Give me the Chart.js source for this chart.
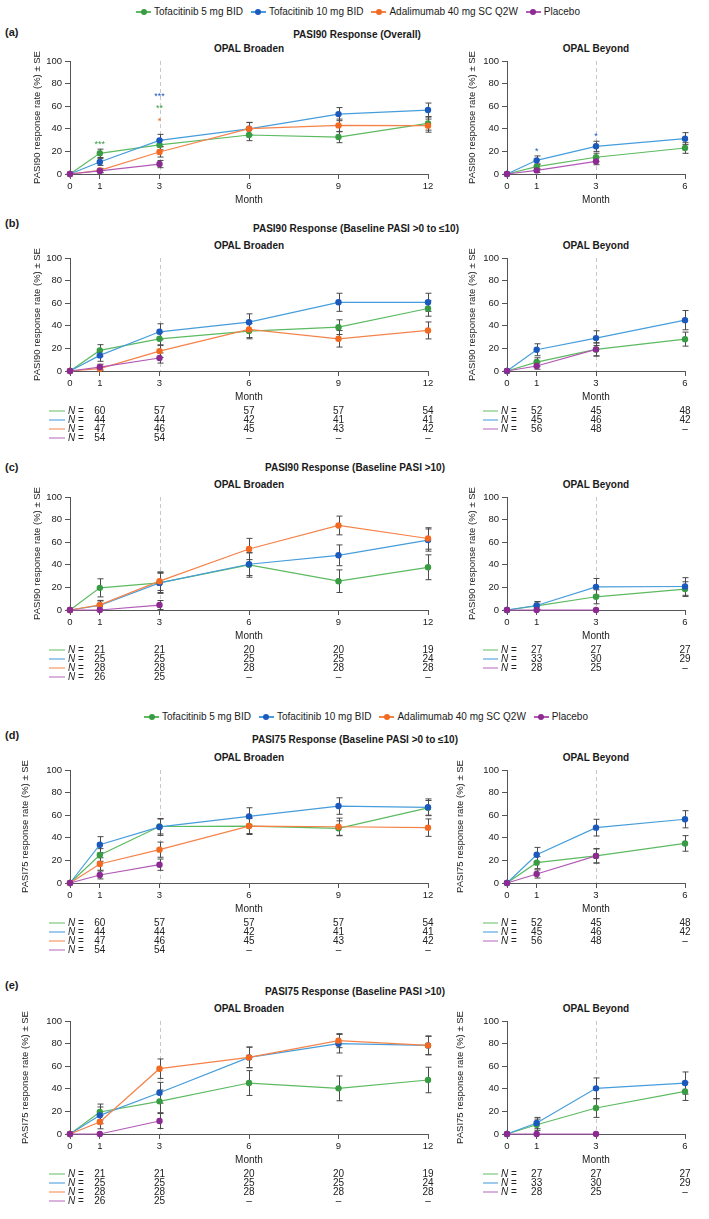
<!DOCTYPE html>
<html>
<head>
<meta charset="utf-8">
<script src="https://cdn.jsdelivr.net/npm/chart.js@4.4.1/dist/chart.umd.min.js"></script>
<style>
body { margin: 0; background: #fff; }
#fig { position: relative; width: 709px; height: 1219px; overflow: hidden;
       font-family: 'Liberation Sans', Arial, Helvetica, sans-serif; color: #1a1a1a; }
.txt { position: absolute; white-space: nowrap; line-height: 1; transform: translate(-50%, -50%); font-size: 10px; font-weight: bold; }
.lbl { position: absolute; white-space: nowrap; line-height: 1; transform: translateY(-50%); font-weight: bold; font-size: 11px; }
.box { position: absolute; }
.legend { position: absolute; display: flex; align-items: center; font-size: 10px; line-height: 1; transform: translateY(-50%); white-space: nowrap; }
.item { display: flex; align-items: center; margin-right: 8px; }
.key { display: inline-block; position: relative; width: 15px; height: 8px; margin-right: 3px; }
.key .ln { position: absolute; left: 0; right: 0; top: 3.3px; height: 1.4px; }
.key .dt { position: absolute; left: 4.5px; top: 1px; width: 6px; height: 6px; border-radius: 50%; }
</style>
</head>
<body>
<div id="fig">
  <div class="legend" id="legend1" style="left:136px; top:12px;"></div>
  <div class="legend" id="legend2" style="left:144px; top:717px;"></div>

  <div class="lbl" style="left:5px; top:32px;">(a)</div>
  <div class="txt" style="left:357px; top:35px;">PASI90 Response (Overall)</div>
  <div class="txt" style="left:249px; top:48.5px;">OPAL Broaden</div>
  <div class="txt" style="left:596px; top:48.5px;">OPAL Beyond</div>

  <div class="lbl" style="left:5px; top:223px;">(b)</div>
  <div class="txt" style="left:356px; top:229px;">PASI90 Response (Baseline PASI &gt;0 to ≤10)</div>
  <div class="txt" style="left:249px; top:246px;">OPAL Broaden</div>
  <div class="txt" style="left:596px; top:246px;">OPAL Beyond</div>

  <div class="lbl" style="left:5px; top:467px;">(c)</div>
  <div class="txt" style="left:355px; top:468px;">PASI90 Response (Baseline PASI &gt;10)</div>
  <div class="txt" style="left:249px; top:485px;">OPAL Broaden</div>
  <div class="txt" style="left:596px; top:485px;">OPAL Beyond</div>

  <div class="lbl" style="left:5px; top:735px;">(d)</div>
  <div class="txt" style="left:355px; top:740px;">PASI75 Response (Baseline PASI &gt;0 to ≤10)</div>
  <div class="txt" style="left:249px; top:758px;">OPAL Broaden</div>
  <div class="txt" style="left:596px; top:758px;">OPAL Beyond</div>

  <div class="lbl" style="left:5px; top:985px;">(e)</div>
  <div class="txt" style="left:355px; top:991.5px;">PASI75 Response (Baseline PASI &gt;10)</div>
  <div class="txt" style="left:249px; top:1009px;">OPAL Broaden</div>
  <div class="txt" style="left:596px; top:1009px;">OPAL Beyond</div>
</div>

<script>
// Treatment arms
const seriesNames = ['Tofacitinib 5 mg BID', 'Tofacitinib 10 mg BID', 'Adalimumab 40 mg SC Q2W', 'Placebo'];
const lineColors = ['#5cba60', '#469ddb', '#f4834a', '#b259b7'];
const markerColors = ['#399c44', '#1c59bd', '#f26a22', '#8c2a91'];
const tableColors = ['#8fd08f', '#72b5e6', '#f7aa7c', '#cc90ce'];

// Visit months
const monthsBroaden = [0, 1, 3, 6, 9, 12];
const monthsBeyond = [0, 1, 3, 6];
const monthsPlacebo = [0, 1, 3];
const nMonthsBroaden = [1, 3, 6, 9, 12];
const nMonthsBeyond = [1, 3, 6];

// (a) PASI90 overall - OPAL Broaden
const aBroTofa5 = [0, 18.3, 25.7, 34.5, 32.7, 44.8];
const aBroTofa5SE = [0, 3.7, 4.3, 5.0, 5.0, 6.0];
const aBroTofa10 = [0, 10.6, 29.8, 40.0, 53.0, 56.6];
const aBroTofa10SE = [0, 3.0, 5.3, 5.5, 5.8, 6.2];
const aBroAda = [0, 3.2, 19.5, 40.1, 43.0, 42.8];
const aBroAdaSE = [0, 1.8, 4.5, 5.6, 5.6, 5.8];
const aBroPbo = [0, 2.7, 8.8];
const aBroPboSE = [0, 1.6, 3.2];
const aBroStarMonths = [1, 3, 3, 3];
const aBroStarLevels = [28, 70, 59.5, 48.5];
const aBroStarText = ['***', '***', '**', '*'];
const aBroStarSeries = [0, 1, 0, 2];

// (a) PASI90 overall - OPAL Beyond
const aBeyTofa5 = [0, 6.5, 14.8, 23.0];
const aBeyTofa5SE = [0, 2.5, 3.6, 4.7];
const aBeyTofa10 = [0, 12.1, 24.5, 31.3];
const aBeyTofa10SE = [0, 3.9, 4.5, 5.3];
const aBeyPbo = [0, 3.2, 11.2];
const aBeyPboSE = [0, 1.8, 3.0];
const aBeyStarMonths = [1, 3];
const aBeyStarLevels = [22, 34.5];
const aBeyStarText = ['*', '*'];
const aBeyStarSeries = [1, 1];

// (b) PASI90, baseline PASI >0 to <=10 - OPAL Broaden
const bBroTofa5 = [0, 18.2, 28.5, 35.3, 38.8, 55.3];
const bBroTofa5SE = [0, 5.1, 6.0, 6.8, 6.5, 6.8];
const bBroTofa10 = [0, 13.8, 34.7, 43.2, 60.8, 60.8];
const bBroTofa10SE = [0, 5.2, 7.1, 7.4, 8.0, 8.0];
const bBroAda = [0, 2.1, 17.6, 36.8, 28.5, 35.9];
const bBroAdaSE = [0, 2.1, 5.6, 7.2, 7.3, 7.5];
const bBroPbo = [0, 3.5, 11.5];
const bBroPboSE = [0, 2.5, 4.5];
const bBroN5 = [60, 57, 57, 57, 54];
const bBroN10 = [44, 44, 42, 41, 41];
const bBroNAda = [47, 46, 45, 43, 42];
const bBroNPbo = [54, 54, null, null, null];

// (b) OPAL Beyond
const bBeyTofa5 = [0, 7.9, 19.1, 28.2];
const bBeyTofa5SE = [0, 3.8, 5.9, 6.2];
const bBeyTofa10 = [0, 18.8, 29.1, 45.0];
const bBeyTofa10SE = [0, 5.3, 6.5, 8.5];
const bBeyPbo = [0, 4.4, 19.1];
const bBeyPboSE = [0, 2.8, 5.7];
const bBeyN5 = [52, 45, 48];
const bBeyN10 = [45, 46, 42];
const bBeyNPbo = [56, 48, null];

// (c) PASI90, baseline PASI >10 - OPAL Broaden
const cBroTofa5 = [0, 19.6, 24.0, 40.0, 25.5, 37.8];
const cBroTofa5SE = [0, 8.0, 9.3, 11.0, 10.0, 11.0];
const cBroTofa10 = [0, 4.0, 24.0, 40.5, 48.4, 61.9];
const cBroTofa10SE = [0, 4.0, 8.5, 10.0, 9.2, 9.8];
const cBroAda = [0, 4.5, 25.5, 54.0, 74.8, 63.3];
const cBroAdaSE = [0, 4.0, 8.2, 9.4, 8.3, 9.5];
const cBroPbo = [0, 0, 4.4];
const cBroPboSE = [0, 0, 4.0];
const cBroN5 = [21, 21, 20, 20, 19];
const cBroN10 = [25, 25, 25, 25, 24];
const cBroNAda = [28, 28, 28, 28, 28];
const cBroNPbo = [26, 25, null, null, null];

// (c) OPAL Beyond
const cBeyTofa5 = [0, 3.7, 11.7, 18.5];
const cBeyTofa5SE = [0, 3.6, 6.2, 6.5];
const cBeyTofa10 = [0, 4.0, 20.5, 20.8];
const cBeyTofa10SE = [0, 3.4, 7.4, 7.8];
const cBeyPbo = [0, 0, 0];
const cBeyPboSE = [0, 0, 0];
const cBeyN5 = [27, 27, 27];
const cBeyN10 = [33, 30, 29];
const cBeyNPbo = [28, 25, null];

// (d) PASI75, baseline PASI >0 to <=10 - OPAL Broaden
const dBroTofa5 = [0, 24.8, 50.0, 50.4, 48.4, 66.5];
const dBroTofa5SE = [0, 5.6, 6.6, 6.6, 6.6, 6.5];
const dBroTofa10 = [0, 33.9, 49.6, 59.0, 68.1, 67.0];
const dBroTofa10SE = [0, 7.1, 7.5, 7.6, 7.3, 7.4];
const dBroAda = [0, 16.8, 29.5, 50.4, 49.8, 49.0];
const dBroAdaSE = [0, 5.5, 6.7, 7.5, 7.6, 7.7];
const dBroPbo = [0, 7.1, 16.2];
const dBroPboSE = [0, 3.5, 5.0];

// (d) OPAL Beyond
const dBeyTofa5 = [0, 18.0, 24.0, 35.0];
const dBeyTofa5SE = [0, 5.3, 6.4, 6.9];
const dBeyTofa10 = [0, 25.0, 49.0, 56.4];
const dBeyTofa10SE = [0, 6.5, 7.4, 7.6];
const dBeyPbo = [0, 8.0, 24.0];
const dBeyPboSE = [0, 3.6, 6.2];

// (e) PASI75, baseline PASI >10 - OPAL Broaden
const eBroTofa5 = [0, 19.5, 28.9, 45.1, 40.4, 47.8];
const eBroTofa5SE = [0, 7.0, 10.0, 11.0, 11.0, 11.3];
const eBroTofa10 = [0, 16.5, 36.5, 67.8, 79.9, 78.4];
const eBroTofa10SE = [0, 7.4, 9.2, 9.2, 8.2, 8.0];
const eBroAda = [0, 10.6, 57.8, 67.8, 82.6, 78.4];
const eBroAdaSE = [0, 6.0, 8.6, 9.0, 6.2, 8.4];
const eBroPbo = [0, 0, 11.5];
const eBroPboSE = [0, 0, 6.6];

// (e) OPAL Beyond
const eBeyTofa5 = [0, 8.2, 23.0, 37.7];
const eBeyTofa5SE = [0, 5.0, 8.3, 8.0];
const eBeyTofa10 = [0, 9.7, 40.4, 45.1];
const eBeyTofa10SE = [0, 5.0, 9.2, 9.8];
const eBeyPbo = [0, 0, 0];
const eBeyPboSE = [0, 0, 0];

// (d) and (e) use the same patient numbers as (b) and (c)

const FONT = "'Liberation Sans', Arial, Helvetica, sans-serif";
const PLOT_H = 113;
const PAD_TOP = 22;
const Y90 = 'PASI90 response rate (%) ± SE';
const Y75 = 'PASI75 response rate (%) ± SE';

Chart.defaults.font.family = FONT;
Chart.defaults.color = '#222';

// Build the figure-level legends
function buildLegend(el) {
    seriesNames.forEach((name, k) => {
        const item = document.createElement('span');
        item.className = 'item';
        item.innerHTML = `<span class="key"><span class="ln" style="background:${lineColors[k]}"></span>` +
            `<span class="dt" style="background:${markerColors[k]}"></span></span>${name}`;
        el.appendChild(item);
    });
}
buildLegend(document.getElementById('legend1'));
buildLegend(document.getElementById('legend2'));

// Error bars, month-3 reference line, significance stars and N table
const extrasPlugin = {
    id: 'extras',
    beforeDatasetsDraw(chart, args, opts) {
        const { ctx, chartArea } = chart;
        const x = chart.scales.x, y = chart.scales.y;
        ctx.save();
        const xr = Math.round(x.getPixelForValue(3)) + 0.5;
        ctx.strokeStyle = '#c8c8c8';
        ctx.lineWidth = 1;
        ctx.setLineDash([4, 3]);
        ctx.beginPath();
        ctx.moveTo(xr, chartArea.top);
        ctx.lineTo(xr, chartArea.bottom);
        ctx.stroke();
        ctx.setLineDash([]);

        ctx.strokeStyle = '#4a4a4a';
        chart.data.datasets.forEach(ds => {
            ds.data.forEach((p, i) => {
                const se = ds.se[i];
                if (!se) return;
                const px = Math.round(x.getPixelForValue(p.x)) + 0.5;
                const yTop = y.getPixelForValue(p.y + se);
                const yBot = y.getPixelForValue(Math.max(0, p.y - se));
                ctx.beginPath();
                ctx.moveTo(px, yTop); ctx.lineTo(px, yBot);
                ctx.moveTo(px - 3, yTop); ctx.lineTo(px + 3, yTop);
                ctx.moveTo(px - 3, yBot); ctx.lineTo(px + 3, yBot);
                ctx.stroke();
            });
        });
        ctx.restore();
    },
    afterDatasetsDraw(chart, args, opts) {
        if (!opts.starMonths) return;
        const { ctx } = chart;
        const x = chart.scales.x, y = chart.scales.y;
        ctx.save();
        ctx.font = `9px ${FONT}`;
        ctx.textAlign = 'center';
        ctx.textBaseline = 'middle';
        opts.starMonths.forEach((m, i) => {
            ctx.fillStyle = markerColors[opts.starSeries[i]];
            ctx.fillText(opts.starText[i], x.getPixelForValue(m), y.getPixelForValue(opts.starLevels[i]) + 2);
        });
        ctx.restore();
    },
    afterDraw(chart, args, opts) {
        if (!opts.nRows) return;
        const { ctx, chartArea } = chart;
        const x = chart.scales.x;
        ctx.save();
        ctx.textBaseline = 'middle';
        opts.nRows.forEach((row, r) => {
            const yy = chartArea.bottom + 40 + 9 * r;
            ctx.strokeStyle = tableColors[row.k];
            ctx.lineWidth = 1.4;
            ctx.beginPath();
            ctx.moveTo(chartArea.left + opts.keyFrom, yy);
            ctx.lineTo(chartArea.left + opts.keyTo, yy);
            ctx.stroke();
            ctx.fillStyle = '#222';
            ctx.textAlign = 'left';
            ctx.font = `italic 10px ${FONT}`;
            const nx = chartArea.left + opts.keyTo + 3;
            ctx.fillText('N', nx, yy);
            const w = ctx.measureText('N').width;
            ctx.font = `10px ${FONT}`;
            ctx.fillText(' =', nx + w, yy);
            ctx.textAlign = 'center';
            row.vals.forEach((v, i) => {
                ctx.fillText(v === null ? '–' : String(v), x.getPixelForValue(opts.nMonths[i]), yy);
            });
        });
        ctx.restore();
    }
};

function buildSeries(vals, se, k, months) {
    return {
        label: seriesNames[k],
        data: vals.map((v, i) => ({ x: months[i], y: v })),
        se: se,
        borderColor: lineColors[k],
        backgroundColor: markerColors[k],
        pointBackgroundColor: markerColors[k],
        pointBorderWidth: 0,
        pointRadius: 3.2,
        borderWidth: 1.2,
        tension: 0,
        clip: false,
        order: [3, 2, 1, 0][k]
    };
}

// Draw one panel; study 'bro' = OPAL Broaden (left), 'bey' = OPAL Beyond (right)
function drawPanel(p) {
    const bro = p.study === 'bro';
    const canvasLeft = bro ? 0 : 445;
    const width = bro ? 440 : 252;
    const areaLeft = bro ? 70 : 62;
    const padL = p.titleX - canvasLeft - 6;
    const padB = p.nRows ? 42 : 4;
    const height = PAD_TOP + PLOT_H + 33 + padB;
    const months = bro ? monthsBroaden : monthsBeyond;

    const box = document.createElement('div');
    box.className = 'box';
    box.style.left = canvasLeft + 'px';
    box.style.top = (p.top - PAD_TOP) + 'px';
    const canvas = document.createElement('canvas');
    canvas.width = width;
    canvas.height = height;
    canvas.style.width = width + 'px';
    canvas.style.height = height + 'px';
    box.appendChild(canvas);
    document.getElementById('fig').appendChild(box);

    const datasets = p.series.map(s => buildSeries(s[0], s[1], s[2], s[2] === 3 ? monthsPlacebo : months));

    const axisGrid = { drawOnChartArea: false, drawTicks: true, tickLength: 5, color: '#555', lineWidth: 1 };
    const axisBorder = { display: true, color: '#555', width: 1 };

    new Chart(canvas, {
        type: 'line',
        data: { datasets },
        plugins: [extrasPlugin],
        options: {
            responsive: false,
            animation: false,
            events: [],
            layout: { autoPadding: false, padding: { left: padL, right: 12, top: PAD_TOP, bottom: padB } },
            plugins: {
                legend: { display: false },
                tooltip: { enabled: false },
                extras: {
                    starMonths: p.starMonths, starLevels: p.starLevels, starText: p.starText, starSeries: p.starSeries,
                    nRows: p.nRows, nMonths: bro ? nMonthsBroaden : nMonthsBeyond,
                    keyFrom: bro ? -21 : -24, keyTo: bro ? -5 : -9
                }
            },
            scales: {
                x: {
                    type: 'linear', min: 0, max: bro ? 12 : 6,
                    afterBuildTicks: s => { s.ticks = months.map(v => ({ value: v })); },
                    afterFit: s => { s.height = 33; },
                    grid: axisGrid, border: axisBorder,
                    ticks: { font: { size: 9.5 }, color: '#222', padding: 2, maxRotation: 0, autoSkip: false },
                    title: { display: true, text: 'Month', font: { size: 10 }, color: '#222', padding: { top: 0, bottom: 1 } }
                },
                y: {
                    min: 0, max: 100,
                    afterFit: s => { s.width = areaLeft - padL; },
                    grid: axisGrid, border: axisBorder,
                    ticks: { stepSize: 20, font: { size: 9.5 }, color: '#222', padding: 3 },
                    title: { display: true, text: p.yTitle, font: { size: 9.5 }, color: '#222', padding: 0 }
                }
            }
        }
    });
}

// (a)
drawPanel({ study: 'bro', top: 61, titleX: 38, yTitle: Y90,
    series: [[aBroTofa5, aBroTofa5SE, 0], [aBroTofa10, aBroTofa10SE, 1], [aBroAda, aBroAdaSE, 2], [aBroPbo, aBroPboSE, 3]],
    starMonths: aBroStarMonths, starLevels: aBroStarLevels, starText: aBroStarText, starSeries: aBroStarSeries });
drawPanel({ study: 'bey', top: 61, titleX: 472.5, yTitle: Y90,
    series: [[aBeyTofa5, aBeyTofa5SE, 0], [aBeyTofa10, aBeyTofa10SE, 1], [aBeyPbo, aBeyPboSE, 3]],
    starMonths: aBeyStarMonths, starLevels: aBeyStarLevels, starText: aBeyStarText, starSeries: aBeyStarSeries });

// (b)
const bBroRows = [{ k: 0, vals: bBroN5 }, { k: 1, vals: bBroN10 }, { k: 2, vals: bBroNAda }, { k: 3, vals: bBroNPbo }];
const bBeyRows = [{ k: 0, vals: bBeyN5 }, { k: 1, vals: bBeyN10 }, { k: 3, vals: bBeyNPbo }];
drawPanel({ study: 'bro', top: 258, titleX: 38, yTitle: Y90, nRows: bBroRows,
    series: [[bBroTofa5, bBroTofa5SE, 0], [bBroTofa10, bBroTofa10SE, 1], [bBroAda, bBroAdaSE, 2], [bBroPbo, bBroPboSE, 3]] });
drawPanel({ study: 'bey', top: 258, titleX: 472.5, yTitle: Y90, nRows: bBeyRows,
    series: [[bBeyTofa5, bBeyTofa5SE, 0], [bBeyTofa10, bBeyTofa10SE, 1], [bBeyPbo, bBeyPboSE, 3]] });

// (c)
const cBroRows = [{ k: 0, vals: cBroN5 }, { k: 1, vals: cBroN10 }, { k: 2, vals: cBroNAda }, { k: 3, vals: cBroNPbo }];
const cBeyRows = [{ k: 0, vals: cBeyN5 }, { k: 1, vals: cBeyN10 }, { k: 3, vals: cBeyNPbo }];
drawPanel({ study: 'bro', top: 497, titleX: 38, yTitle: Y90, nRows: cBroRows,
    series: [[cBroTofa5, cBroTofa5SE, 0], [cBroTofa10, cBroTofa10SE, 1], [cBroAda, cBroAdaSE, 2], [cBroPbo, cBroPboSE, 3]] });
drawPanel({ study: 'bey', top: 497, titleX: 472.5, yTitle: Y90, nRows: cBeyRows,
    series: [[cBeyTofa5, cBeyTofa5SE, 0], [cBeyTofa10, cBeyTofa10SE, 1], [cBeyPbo, cBeyPboSE, 3]] });

// (d)
drawPanel({ study: 'bro', top: 770, titleX: 25.5, yTitle: Y75, nRows: bBroRows,
    series: [[dBroTofa5, dBroTofa5SE, 0], [dBroTofa10, dBroTofa10SE, 1], [dBroAda, dBroAdaSE, 2], [dBroPbo, dBroPboSE, 3]] });
drawPanel({ study: 'bey', top: 770, titleX: 461, yTitle: Y75, nRows: bBeyRows,
    series: [[dBeyTofa5, dBeyTofa5SE, 0], [dBeyTofa10, dBeyTofa10SE, 1], [dBeyPbo, dBeyPboSE, 3]] });

// (e)
drawPanel({ study: 'bro', top: 1021, titleX: 25.5, yTitle: Y75, nRows: cBroRows,
    series: [[eBroTofa5, eBroTofa5SE, 0], [eBroTofa10, eBroTofa10SE, 1], [eBroAda, eBroAdaSE, 2], [eBroPbo, eBroPboSE, 3]] });
drawPanel({ study: 'bey', top: 1021, titleX: 461, yTitle: Y75, nRows: cBeyRows,
    series: [[eBeyTofa5, eBeyTofa5SE, 0], [eBeyTofa10, eBeyTofa10SE, 1], [eBeyPbo, eBeyPboSE, 3]] });
</script>
</body>
</html>
